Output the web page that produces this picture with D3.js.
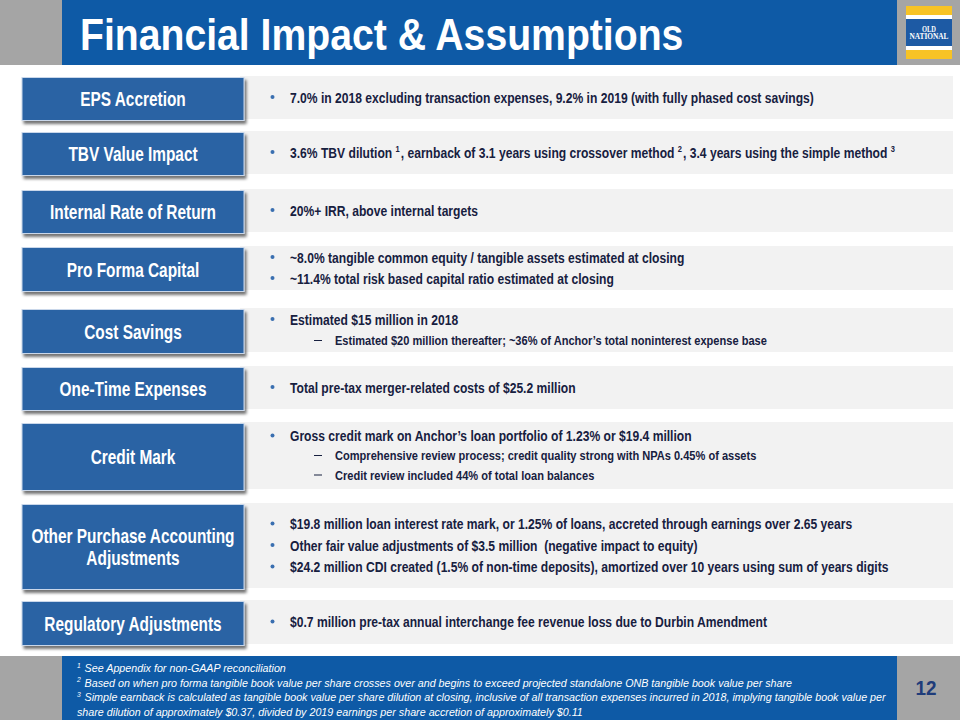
<!DOCTYPE html>
<html>
<head>
<meta charset="utf-8">
<script src="https://cdn.jsdelivr.net/npm/d3@7"></script>
<style>
  html, body { margin: 0; padding: 0; background: #ffffff; }
  svg { display: block; }
  svg text { white-space: pre; }
</style>
</head>
<body>
<svg id="slide" width="960" height="720"></svg>
<script>
// ---------------- DATA ----------------
const title = "Financial Impact & Assumptions";
const pageNumber = "12";
const logoLines = ["OLD", "NATIONAL"];

const categories = [
  "EPS Accretion",
  "TBV Value Impact",
  "Internal Rate of Return",
  "Pro Forma Capital",
  "Cost Savings",
  "One-Time Expenses",
  "Credit Mark",
  "Other Purchase Accounting|Adjustments",
  "Regulatory Adjustments"
];

// each line: [level, text]; level 1 = bullet, 2 = dash sub-item; ^n = superscript
const bullets = [
  [[1, "7.0% in 2018 excluding transaction expenses, 9.2% in 2019 (with fully phased cost savings)"]],
  [[1, "3.6% TBV dilution ^1, earnback of 3.1 years using crossover method ^2, 3.4 years using the simple method ^3"]],
  [[1, "20%+ IRR, above internal targets"]],
  [[1, "~8.0% tangible common equity / tangible assets estimated at closing"],
   [1, "~11.4% total risk based capital ratio estimated at closing"]],
  [[1, "Estimated $15 million in 2018"],
   [2, "Estimated $20 million thereafter; ~36% of Anchor\u2019s total noninterest expense base"]],
  [[1, "Total pre-tax merger-related costs of $25.2 million"]],
  [[1, "Gross credit mark on Anchor\u2019s loan portfolio of 1.23% or $19.4 million"],
   [2, "Comprehensive review process; credit quality strong with NPAs 0.45% of assets"],
   [2, "Credit review included 44% of total loan balances"]],
  [[1, "$19.8 million loan interest rate mark, or 1.25% of loans, accreted through earnings over 2.65 years"],
   [1, "Other fair value adjustments of $3.5 million  (negative impact to equity)"],
   [1, "$24.2 million CDI created (1.5% of non-time deposits), amortized over 10 years using sum of years digits"]],
  [[1, "$0.7 million pre-tax annual interchange fee revenue loss due to Durbin Amendment"]]
];

const footnotes = [
  "^1 See Appendix for non-GAAP reconciliation",
  "^2 Based on when pro forma tangible book value per share crosses over and begins to exceed projected standalone ONB tangible book value per share",
  "^3 Simple earnback is calculated as tangible book value per share dilution at closing, inclusive of all transaction expenses incurred in 2018, implying tangible book value per",
  "share dilution of approximately $0.37, divided by 2019 earnings per share accretion of approximately $0.11"
];

// ---------------- LAYOUT (not data) ----------------
const rowTop    = [76, 131, 189, 246, 308, 366, 422, 503, 600];
const rowHeight = [43, 43, 43, 44, 44, 43, 67, 85, 44];
const lineGap   = [21, 21, 21, 21, 21, 21, 19.5, 21.5, 21];

const C = {
  headerBlue: "#0e5aa6",
  gray: "#a5a5a5",
  box: "#2963a4",
  boxBorder: "#c9d7ea",
  band: "#f2f2f2",
  text: "#17203f",
  bullet: "#3a6fb0",
  num: "#1f3c7a",
  yellow: "#f7c325"
};

const FONT = "'Liberation Sans', Arial, sans-serif";
// horizontal condensing per text class (emulates a narrow face)
const SX = { title: 0.89, label: 0.79, body: 0.865, sub: 0.885, foot: 0.975, num: 0.9 };

const svg = d3.select("#slide");

// helper: write text with ^n superscripts into a text selection
function richText(sel, str, size) {
  const parts = str.split(/(\^\d)/);
  parts.forEach(p => {
    if (!p) return;
    if (/^\^\d$/.test(p)) {
      sel.append("tspan").attr("font-size", size * 0.62).attr("dy", -size * 0.38).text(p.slice(1));
      sel.append("tspan").attr("font-size", size).attr("dy", size * 0.38).text("\u200a");
    } else {
      sel.append("tspan").attr("font-size", size).text(p);
    }
  });
}

function placeText(parent, x, y, anchor, sx) {
  return parent.append("text")
    .attr("transform", `translate(${x},${y}) scale(${sx},1)`)
    .attr("text-anchor", anchor)
    .attr("font-family", FONT);
}

const defs = svg.append("defs");
const f = defs.append("filter").attr("id", "shadow").attr("x", "-10%").attr("y", "-20%")
  .attr("width", "125%").attr("height", "150%");
f.append("feGaussianBlur").attr("in", "SourceAlpha").attr("stdDeviation", 1.6).attr("result", "b");
f.append("feOffset").attr("in", "b").attr("dx", 2).attr("dy", 3).attr("result", "o");
f.append("feComponentTransfer").attr("in", "o").attr("result", "o2")
  .append("feFuncA").attr("type", "linear").attr("slope", 0.55);
const m = f.append("feMerge");
m.append("feMergeNode").attr("in", "o2");
m.append("feMergeNode").attr("in", "SourceGraphic");

// ---------------- HEADER ----------------
svg.append("rect").attr("x", 0).attr("y", 0).attr("width", 62).attr("height", 65).attr("fill", C.gray);
svg.append("rect").attr("x", 62).attr("y", 0).attr("width", 835).attr("height", 65).attr("fill", C.headerBlue);
svg.append("rect").attr("x", 897).attr("y", 0).attr("width", 63).attr("height", 65).attr("fill", C.gray);

placeText(svg, 80, 50, "start", SX.title)
  .attr("fill", "#ffffff").attr("font-weight", "bold").attr("font-size", 44).text(title);

// logo
const logo = svg.append("g").attr("transform", "translate(906,6)");
const logoStripes = [
  { y: 0, h: 9, c: C.yellow }, { y: 9, h: 4, c: "#ffffff" }, { y: 13, h: 27, c: "#1d5aa4" },
  { y: 40, h: 4, c: "#ffffff" }, { y: 44, h: 9, c: C.yellow }
];
logo.selectAll("rect").data(logoStripes).join("rect")
  .attr("x", 0).attr("y", d => d.y).attr("width", 46).attr("height", d => d.h).attr("fill", d => d.c);
logo.selectAll("text").data(logoLines).join("text")
  .attr("x", 23).attr("y", (d, i) => 25.5 + i * 7.5)
  .attr("text-anchor", "middle").attr("fill", "#ffffff")
  .attr("font-family", "'Liberation Serif', 'DejaVu Serif', serif").attr("font-size", 7.6)
  .attr("font-weight", "bold")
  .attr("textLength", (d, i) => i === 0 ? 14 : 39).attr("lengthAdjust", "spacingAndGlyphs")
  .text(d => d);

// ---------------- ROWS ----------------
const rows = svg.append("g");
categories.forEach((cat, i) => {
  const top = rowTop[i], h = rowHeight[i];
  const g = rows.append("g");
  // content band
  g.append("rect").attr("x", 240).attr("y", top).attr("width", 713).attr("height", h).attr("fill", C.band);
  // label box
  g.append("rect").attr("x", 22).attr("y", top + 1.5).attr("width", 222).attr("height", h)
    .attr("fill", C.box).attr("stroke", C.boxBorder).attr("stroke-width", 1)
    .attr("filter", "url(#shadow)");
  const labelLines = cat.split("|");
  const cy = top + 1.5 + h / 2;
  labelLines.forEach((ln, k) => {
    const y = cy + (k - (labelLines.length - 1) / 2) * 22 + 7;
    placeText(g, 133, y, "middle", SX.label).attr("fill", "#ffffff").attr("font-weight", "bold")
      .attr("font-size", 19.5).text(ln);
  });
  // bullets
  const items = bullets[i];
  const ccy = top + h / 2;
  items.forEach((it, k) => {
    const [lvl, txt] = it;
    const y = ccy + (k - (items.length - 1) / 2) * lineGap[i];
    if (lvl === 1) {
      g.append("circle").attr("cx", 272.5).attr("cy", y - 0.5).attr("r", 2).attr("fill", C.bullet);
      const t = placeText(g, 290, y + 5, "start", SX.body).attr("fill", C.text).attr("font-weight", "bold");
      richText(t, txt, 14);
    } else {
      g.append("line").attr("x1", 314).attr("x2", 322).attr("y1", y).attr("y2", y)
        .attr("stroke", C.text).attr("stroke-width", 1);
      const t = placeText(g, 335, y + 4.5, "start", SX.sub).attr("fill", C.text).attr("font-weight", "bold");
      richText(t, txt, 12.5);
    }
  });
});

// ---------------- FOOTER ----------------
svg.append("rect").attr("x", 0).attr("y", 656).attr("width", 62).attr("height", 64).attr("fill", C.gray);
svg.append("rect").attr("x", 62).attr("y", 656).attr("width", 835).attr("height", 64).attr("fill", C.headerBlue);
svg.append("rect").attr("x", 897).attr("y", 656).attr("width", 63).attr("height", 64).attr("fill", C.gray);

const fy = d3.scaleLinear().domain([0, footnotes.length - 1]).range([672, 716]);
footnotes.forEach((fn, k) => {
  const t = placeText(svg, 77, fy(k), "start", SX.foot).attr("fill", "#ffffff").attr("font-style", "italic");
  richText(t, fn, 11);
});

placeText(svg, 926, 694.5, "middle", SX.num).attr("fill", C.num).attr("font-weight", "bold")
  .attr("font-size", 21).text(pageNumber);
</script>
</body>
</html>
